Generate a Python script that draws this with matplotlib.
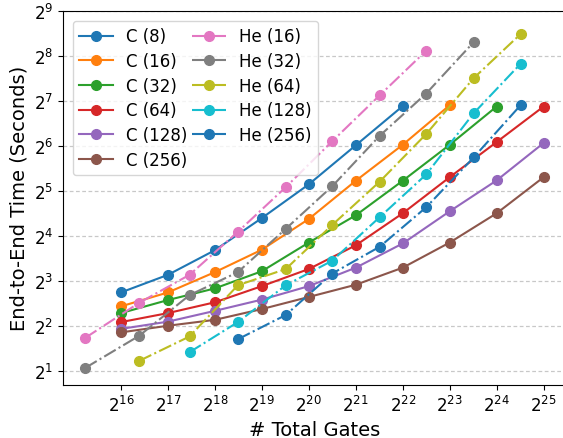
import matplotlib
matplotlib.use("Agg")
import matplotlib.pyplot as plt
from matplotlib.ticker import FixedLocator, NullLocator

# gate counts
c_gates = [65536, 131072, 262144, 524288, 1048576, 2097152,
           4194304, 8388608, 16777216, 33554432]
he_gates = [38700, 85900, 180300, 368200, 746600, 1483000,
            2986000, 5932000, 11946000, 23890000]

# end-to-end times (seconds)
c8 = [6.68, 8.76, 12.8, 21.0, 35.3, 64.4, 117.8]
c16 = [5.39, 6.68, 9.13, 12.9, 20.7, 37.3, 64.9, 119.4]
c32 = [4.86, 5.94, 7.11, 9.26, 14.4, 21.9, 37.3, 64.9, 117.0]
c64 = [4.23, 4.86, 5.74, 7.36, 9.58, 13.8, 22.6, 39.4, 67.7, 117.0]
c128 = [3.81, 4.26, 5.03, 5.98, 7.36, 9.78, 14.2, 23.3, 37.5, 66.7]
c256 = [3.61, 4.00, 4.38, 5.17, 6.23, 7.52, 9.78, 14.4, 22.6, 39.4]

he16 = [3.32, 5.70, 8.76, 17.0, 33.8, 68.6, 139.1, 276.3]
he32 = [2.09, 3.43, 6.41, 9.13, 17.8, 34.3, 74.6, 143.0, 315.2]
he64 = [2.33, 3.39, 7.46, 9.58, 18.9, 36.8, 76.6, 181.0, 357.1]
he128 = [2.66, 4.23, 7.46, 10.9, 21.3, 41.1, 105.4, 226.0]
he256 = [3.25, 4.72, 8.94, 13.5, 24.8, 53.4, 119.4]

c_series = [("C (8)", c8), ("C (16)", c16), ("C (32)", c32),
            ("C (64)", c64), ("C (128)", c128), ("C (256)", c256)]
# first gate index for each He series
he_series = [("He (16)", he16, 0), ("He (32)", he32, 0), ("He (64)", he64, 1),
             ("He (128)", he128, 2), ("He (256)", he256, 3)]

fig = plt.figure(figsize=(5.63, 4.39), dpi=100)
ax = fig.add_axes([0.1114, 0.1214, 0.895, 0.852])

for name, vals in c_series:
    ax.plot(c_gates[:len(vals)], vals, "o-", label=name, markersize=7, linewidth=1.5)
for name, vals, start in he_series:
    ax.plot(he_gates[start:start + len(vals)], vals, "o-.", label=name,
            markersize=7, linewidth=1.5)

ax.set_xscale("log", base=2)
ax.set_yscale("log", base=2)
ax.set_xlim(2 ** 14.76, 2 ** 25.49)
ax.set_ylim(2 ** 0.69, 2 ** 9)

ax.xaxis.set_major_locator(FixedLocator([2 ** k for k in range(16, 26)]))
ax.yaxis.set_major_locator(FixedLocator([2 ** k for k in range(1, 10)]))
ax.xaxis.set_minor_locator(NullLocator())
ax.yaxis.set_minor_locator(NullLocator())
ax.tick_params(labelsize=12)

ax.grid(True, axis="y", linestyle=(0, (3, 2)), color="#c8c8c8", linewidth=0.9)
ax.set_xlabel("# Total Gates", fontsize=14)
ax.set_ylabel("End-to-End Time (Seconds)", fontsize=14)

ax.legend(ncol=2, loc="upper left", fontsize=12, columnspacing=0.3,
          handletextpad=0.8, labelspacing=0.4, borderaxespad=0.6)

fig.savefig("out.png")
